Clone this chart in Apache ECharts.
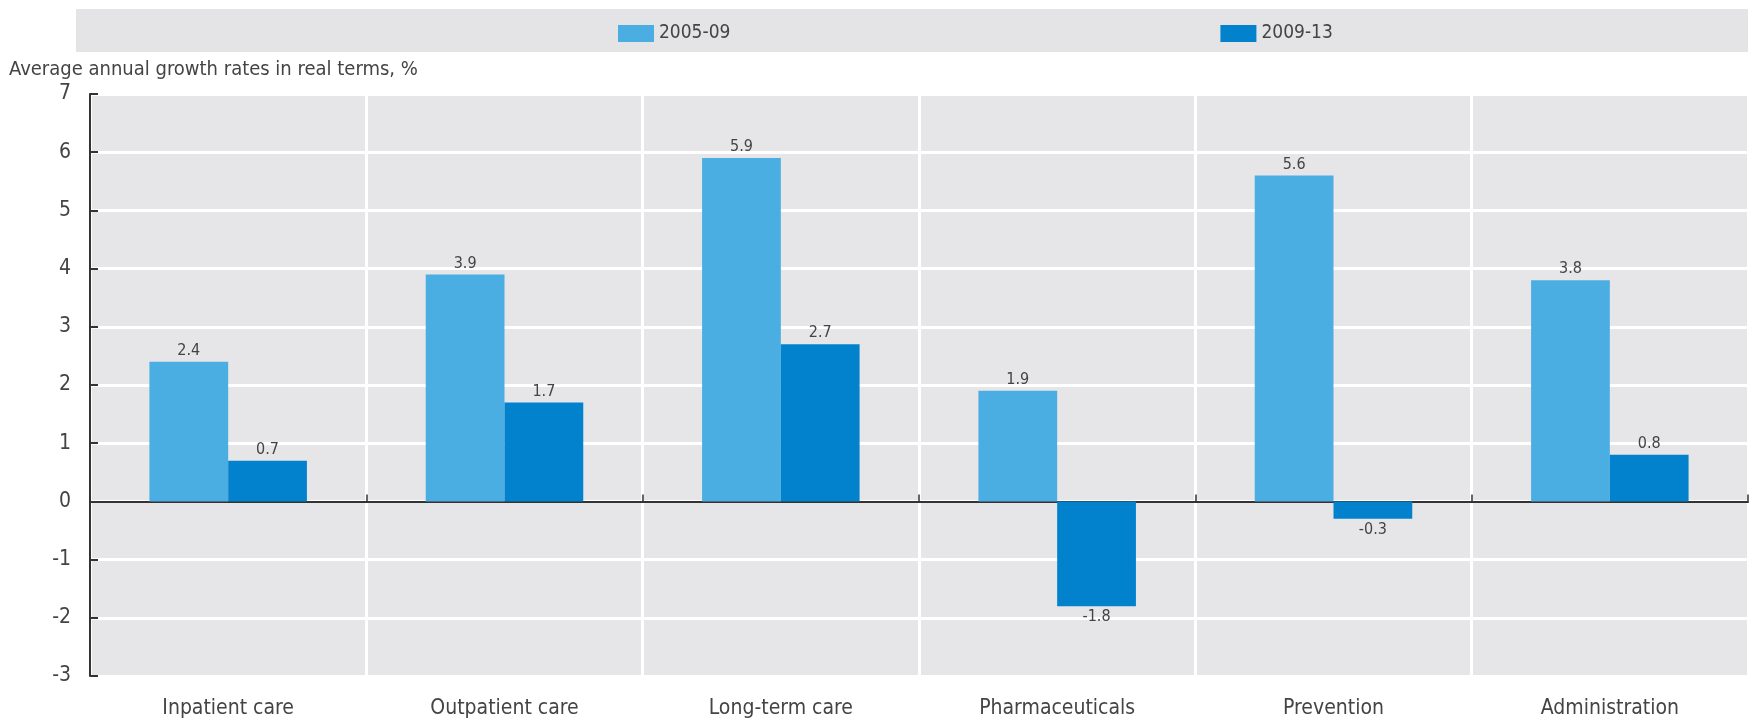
<!DOCTYPE html>
<html>
<head>
<meta charset="utf-8">
<script src="https://cdn.jsdelivr.net/npm/echarts@6/dist/echarts.min.js"></script>
<style>
  html, body { margin: 0; padding: 0; background: #fff; }
  #chart { width: 1755px; height: 719px; }
</style>
</head>
<body>
<div id="chart"></div>
<script>
// data
var categories = ['Inpatient care', 'Outpatient care', 'Long-term care', 'Pharmaceuticals', 'Prevention', 'Administration'];
var growth0509 = [2.4, 3.9, 5.9, 1.9, 5.6, 3.8];
var growth0913 = [0.7, 1.7, 2.7, -1.8, -0.3, 0.8];
var seriesNames = ['2005-09', '2009-13'];

var FONT = '"DejaVu Sans Condensed", "Liberation Sans", sans-serif';
var TXT = '#444';

// labels go above positive bars and below negative ones
function withLabels(vals) {
  return vals.map(function (v) {
    return { value: v, label: { position: v < 0 ? 'bottom' : 'top' } };
  });
}

var chart = echarts.init(document.getElementById('chart'));
var option = {
  animation: false,
  backgroundColor: '#fff',
  graphic: [{
    type: 'rect',
    left: 76, top: 9,
    shape: { width: 1672, height: 43 },
    style: { fill: '#E4E4E6' },
    z: -1
  }],
  title: {
    text: 'Average annual growth rates in real terms, %',
    left: 4, top: 55,
    textStyle: { fontFamily: FONT, fontSize: 20, fontWeight: 'normal', color: TXT }
  },
  legend: {
    data: seriesNames,
    left: 613, top: 19,
    itemWidth: 36, itemHeight: 17,
    itemGap: 490,
    icon: 'rect',
    textStyle: { fontFamily: FONT, fontSize: 19, color: TXT }
  },
  grid: {
    left: 90, right: 7, top: 94, bottom: 42,
    show: true, backgroundColor: '#E6E5E8', borderWidth: 0
  },
  xAxis: [{
    type: 'category',
    data: categories,
    axisLine: { onZero: true, lineStyle: { color: '#333', width: 2 } },
    axisTick: { show: true, inside: true, length: 7, lineStyle: { color: '#333', width: 1.5 } },
    axisLabel: { show: false },
    splitLine: { show: true, lineStyle: { color: '#fff', width: 3 } }
  }, {
    type: 'category',
    data: categories,
    position: 'bottom',
    axisLine: { show: false, onZero: false },
    axisTick: { show: false },
    axisLabel: { fontFamily: FONT, fontSize: 21, color: TXT, margin: 22 },
    splitLine: { show: false }
  }],
  yAxis: {
    type: 'value',
    min: -3, max: 7, interval: 1,
    axisLine: { show: true, lineStyle: { color: '#333', width: 2 } },
    axisTick: { show: true, inside: true, length: 8, lineStyle: { color: '#333', width: 2 } },
    axisLabel: { fontFamily: FONT, fontSize: 21, color: TXT, margin: 19 },
    splitLine: { show: true, lineStyle: { color: '#fff', width: 3 } }
  },
  series: [{
    name: seriesNames[0],
    type: 'bar',
    data: withLabels(growth0509),
    itemStyle: { color: '#4BAEE3' },
    barGap: '0%',
    barCategoryGap: '43%',
    label: { show: true, distance: 3, fontFamily: FONT, fontSize: 16, color: TXT }
  }, {
    name: seriesNames[1],
    type: 'bar',
    data: withLabels(growth0913),
    itemStyle: { color: '#0282CC' },
    barGap: '0%',
    barCategoryGap: '43%',
    label: { show: true, distance: 3, fontFamily: FONT, fontSize: 16, color: TXT }
  }]
};
chart.setOption(option);
</script>
</body>
</html>
